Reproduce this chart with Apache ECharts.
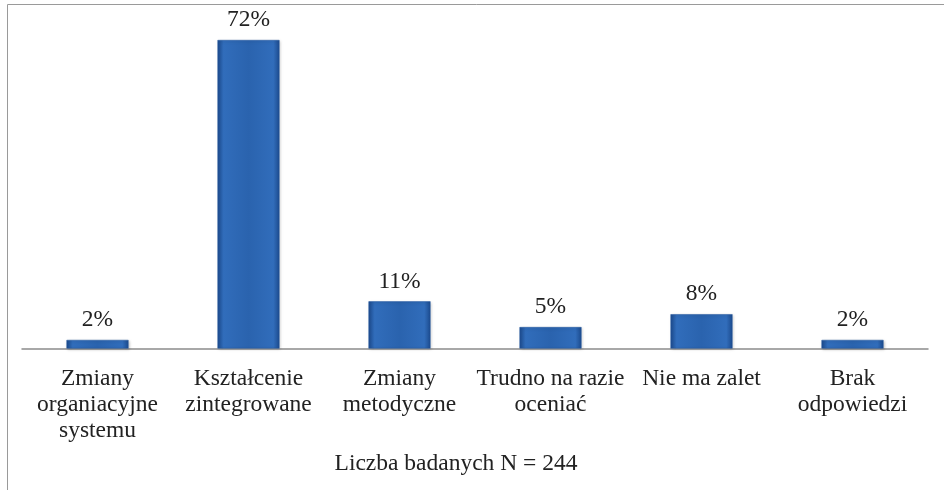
<!DOCTYPE html>
<html>
<head>
<meta charset="utf-8">
<script src="https://cdn.jsdelivr.net/npm/echarts@6/dist/echarts.min.js"></script>
<style>
  html, body { margin: 0; padding: 0; background: #fff; }
  #chart { width: 944px; height: 490px; }
</style>
</head>
<body>
<div id="chart"></div>
<script>
const categories = [
  "Zmiany\norganiacyjne\nsystemu",
  "Kształcenie\nzintegrowane",
  "Zmiany\nmetodyczne",
  "Trudno na razie\noceniać",
  "Nie ma zalet",
  "Brak\nodpowiedzi"
];
const percents = [2, 72, 11, 5, 8, 2];
const caption = "Liczba badanych N = 244";

const font = "'Liberation Serif', 'Times New Roman', serif";

const chart = echarts.init(document.getElementById("chart"));
chart.setOption({
  animation: false,
  grid: { left: 22, right: 16, top: 40, bottom: 141.5 },
  title: {
    text: caption,
    left: 451,
    top: 447,
    textAlign: "center",
    textStyle: { fontFamily: font, fontSize: 23.5, fontWeight: "normal", color: "#222" }
  },
  graphic: [{
    type: "rect",
    shape: { x: 7.5, y: 4.5, width: 950, height: 500 },
    style: { fill: "none", stroke: "#9a9a9a", lineWidth: 1 },
    silent: true
  }],
  xAxis: {
    type: "category",
    data: categories,
    axisLine: { lineStyle: { color: "#8c8c8c", width: 1.5 } },
    axisTick: { show: false },
    axisLabel: {
      interval: 0,
      margin: 17,
      fontFamily: font,
      fontSize: 23.5,
      lineHeight: 26,
      color: "#222"
    }
  },
  yAxis: {
    type: "value",
    min: 0,
    max: 72,
    show: false,
    splitLine: { show: false }
  },
  series: [{
    type: "bar",
    data: percents,
    barWidth: 62,
    itemStyle: {
      color: new echarts.graphic.LinearGradient(0, 0, 1, 0, [
        { offset: 0, color: "#1c4b8e" },
        { offset: 0.1, color: "#316dbb" },
        { offset: 0.5, color: "#2a63ae" },
        { offset: 0.9, color: "#316dbb" },
        { offset: 1, color: "#1c4b8e" }
      ]),
      borderColor: "#22579f",
      borderWidth: 0.5,
      shadowColor: "rgba(0,0,0,0.25)",
      shadowBlur: 3,
      shadowOffsetX: 1,
      shadowOffsetY: 1
    },
    label: {
      show: true,
      position: "top",
      distance: 8,
      formatter: "{c}%",
      fontFamily: font,
      fontSize: 23.5,
      color: "#222"
    }
  }]
});
</script>
</body>
</html>
